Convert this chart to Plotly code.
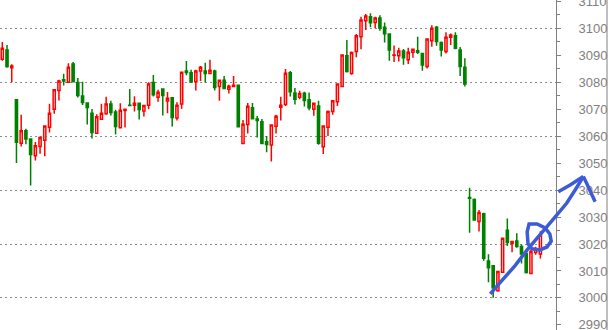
import plotly.graph_objects as go

# ---- data ----
opens = [3088.5, 3092.0, 3085.4, 3073.5, 3057.4, 3062.0, 3058.9, 3052.7, 3056.2, 3058.5,
         3063.3, 3070.0, 3076.9, 3080.9, 3080.0, 3086.8, 3079.9, 3074.9, 3072.3, 3068.5,
         3061.1, 3066.3, 3068.3, 3071.9, 3069.0, 3063.1, 3069.5, 3071.5, 3071.5, 3072.2,
         3069.3, 3071.5, 3079.9, 3074.4, 3077.5, 3073.0, 3074.2, 3066.7, 3071.9, 3084.2,
         3083.5, 3080.2, 3084.2, 3084.2, 3083.2, 3084.2, 3078.4, 3080.7, 3077.4, 3078.4,
         3078.9, 3057.3, 3064.3, 3070.5, 3066.4, 3065.3, 3057.9, 3056.7, 3063.7, 3070.7,
         3071.7, 3083.5, 3076.0, 3074.4, 3075.9, 3073.5, 3070.0, 3071.2, 3056.1, 3063.3,
         3069.1, 3072.8, 3078.4, 3089.8, 3083.2, 3091.4, 3096.9, 3102.8, 3104.3, 3102.2,
         3103.8, 3100.4, 3097.9, 3090.0, 3089.8, 3091.6, 3088.3, 3091.1, 3091.7, 3090.7,
         3085.8, 3095.4, 3100.4, 3094.7, 3091.4, 3096.7, 3097.2, 3092.0, 3085.6, 3037.2,
         3036.5, 3028.3, 3031.2, 3013.7, 3011.9, 3002.7, 3009.5, 3025.1, 3020.2, 3021.1,
         3019.1, 3016.5, 3009.1, 3016.8, 3016.3]
highs = [3094.9, 3093.8, 3086.7, 3073.5, 3067.9, 3062.7, 3058.9, 3057.8, 3059.9, 3063.8,
         3072.0, 3077.5, 3080.9, 3083.1, 3087.0, 3087.5, 3081.6, 3080.2, 3072.3, 3070.1,
         3068.1, 3072.0, 3074.6, 3073.1, 3069.8, 3072.2, 3070.0, 3077.5, 3074.8, 3072.2,
         3071.4, 3080.0, 3082.7, 3077.2, 3077.5, 3076.4, 3074.2, 3072.6, 3083.7, 3087.9,
         3084.6, 3084.6, 3086.0, 3087.2, 3088.3, 3084.6, 3080.7, 3082.3, 3079.1, 3082.3,
         3078.9, 3066.0, 3072.3, 3072.3, 3067.5, 3066.4, 3060.1, 3064.1, 3067.9, 3074.6,
         3084.9, 3084.2, 3077.9, 3076.8, 3076.5, 3076.2, 3072.2, 3073.1, 3063.8, 3069.5,
         3073.1, 3079.3, 3090.1, 3095.7, 3091.4, 3097.9, 3104.3, 3105.3, 3105.6, 3104.3,
         3104.8, 3102.2, 3097.9, 3093.6, 3092.8, 3092.3, 3092.8, 3092.2, 3096.9, 3090.7,
         3096.3, 3101.1, 3100.9, 3095.1, 3098.5, 3098.1, 3098.5, 3093.1, 3088.9, 3040.9,
         3036.9, 3032.6, 3031.6, 3016.2, 3011.9, 3009.8, 3022.3, 3029.5, 3021.2, 3024.0,
         3019.8, 3016.5, 3017.8, 3019.0, 3024.7]
lows = [3088.0, 3085.4, 3080.0, 3050.0, 3056.2, 3057.0, 3041.7, 3051.0, 3053.5, 3052.5,
        3061.4, 3068.3, 3073.2, 3078.8, 3080.0, 3080.0, 3074.3, 3071.6, 3064.3, 3059.1,
        3061.1, 3066.3, 3067.9, 3067.7, 3060.6, 3062.8, 3063.2, 3071.4, 3069.1, 3066.2,
        3067.3, 3070.0, 3074.7, 3072.8, 3067.7, 3068.5, 3063.6, 3065.8, 3070.2, 3082.6,
        3079.9, 3076.9, 3080.5, 3079.9, 3083.2, 3076.9, 3073.1, 3077.7, 3075.8, 3078.4,
        3063.2, 3057.3, 3061.0, 3066.2, 3059.5, 3057.3, 3054.0, 3050.6, 3061.0, 3065.8,
        3071.2, 3074.7, 3071.7, 3073.7, 3071.0, 3069.6, 3067.6, 3056.8, 3053.4, 3060.1,
        3067.9, 3071.2, 3078.4, 3083.6, 3082.8, 3089.3, 3092.2, 3099.4, 3100.4, 3100.0,
        3099.1, 3094.7, 3088.0, 3087.5, 3087.7, 3086.5, 3086.8, 3089.1, 3090.5, 3084.3,
        3085.1, 3093.2, 3093.5, 3089.5, 3090.7, 3093.8, 3092.2, 3082.3, 3078.4, 3024.2,
        3028.9, 3024.6, 3013.8, 3005.8, 3000.1, 3002.3, 3009.5, 3019.3, 3016.9, 3018.6,
        3012.8, 3009.1, 3009.1, 3016.0, 3014.6]
closes = [3092.6, 3085.8, 3086.0, 3057.7, 3062.0, 3058.9, 3053.2, 3056.4, 3059.5, 3063.8,
          3068.5, 3077.2, 3080.5, 3080.5, 3085.6, 3080.2, 3075.1, 3072.5, 3070.6, 3061.4,
          3067.2, 3068.5, 3071.9, 3068.8, 3063.6, 3069.6, 3070.0, 3071.4, 3072.2, 3069.9,
          3071.4, 3079.3, 3075.4, 3076.3, 3075.1, 3074.1, 3066.9, 3071.5, 3083.7, 3083.6,
          3080.1, 3084.2, 3085.6, 3083.2, 3084.4, 3078.0, 3080.7, 3077.7, 3078.5, 3078.9,
          3063.5, 3064.4, 3071.1, 3066.5, 3065.8, 3057.3, 3056.9, 3064.1, 3067.4, 3071.5,
          3083.3, 3076.5, 3073.7, 3075.8, 3073.2, 3070.5, 3072.2, 3057.4, 3063.8, 3069.1,
          3073.1, 3079.3, 3090.1, 3084.0, 3091.0, 3097.2, 3103.1, 3104.6, 3102.1, 3103.8,
          3100.1, 3098.0, 3092.0, 3090.1, 3091.6, 3089.1, 3091.1, 3092.2, 3091.1, 3086.4,
          3096.0, 3100.0, 3095.1, 3092.0, 3096.7, 3097.5, 3092.6, 3085.8, 3079.3, 3037.0,
          3028.9, 3031.7, 3014.7, 3011.2, 3003.8, 3009.8, 3022.1, 3020.6, 3020.9, 3019.1,
          3016.3, 3009.4, 3017.2, 3018.2, 3023.4]
bar_index = list(range(len(opens)))

y_tick_step = 10
y_grid_step = 20

# hand-drawn blue annotation, in (bar index, price) units
scribble_line_x = [103.4, 105.4, 108.6, 111.2, 113.9, 117.1, 119.6, 121.5, 123.1]
scribble_line_y = [3001.5, 3005.6, 3011.9, 3017.8, 3023.4, 3030.0, 3035.2, 3040.4, 3045.0]
scribble_head_left_x = [117.8, 120.3, 123.1]
scribble_head_left_y = [3039.4, 3041.9, 3045.0]
scribble_head_right_x = [123.1, 123.8, 125.6]
scribble_head_right_y = [3045.0, 3042.5, 3035.7]
scribble_loop_x = [111.4, 111.2, 111.6, 113.3, 115.0, 116.0, 116.3, 115.4, 113.9, 112.2, 111.4]
scribble_loop_y = [3019.6, 3024.5, 3027.4, 3027.4, 3026.0, 3023.7, 3021.1, 3018.9, 3017.8, 3018.2, 3020.0]

# ---- layout constants ----
W, H = 608, 330
M_R = 52
X_RANGE = [-0.487, -0.487 + (W - M_R) / 4.72]
Y_RANGE = [2988.1, 3110.5]
GRAY = "#808080"
BLUE = "#3d5bd4"

fig = go.Figure()
fig.add_trace(go.Candlestick(
    x=bar_index, open=opens, high=highs, low=lows, close=closes,
    increasing=dict(line=dict(color="#ff0000", width=1.5), fillcolor="#ffffff"),
    decreasing=dict(line=dict(color="#008000", width=1.5), fillcolor="#008000"),
    whiskerwidth=0, hoverinfo="skip", showlegend=False,
))
# empty helper trace so the grid-only overlay axis is drawn
fig.add_trace(go.Scatter(x=[], y=[], yaxis="y2", mode="lines", showlegend=False,
                         hoverinfo="skip"))


def to_paper_x(v):
    return (v - X_RANGE[0]) / (X_RANGE[1] - X_RANGE[0])


def path_from(xs, ys):
    pts = [f"{to_paper_x(a):.5f},{b:.3f}" for a, b in zip(xs, ys)]
    return "M" + " L".join(pts)


shapes = []
for xs, ys in [(scribble_line_x, scribble_line_y),
               (scribble_head_left_x, scribble_head_left_y),
               (scribble_head_right_x, scribble_head_right_y),
               (scribble_loop_x, scribble_loop_y)]:
    shapes.append(dict(type="path", xref="paper", yref="y", path=path_from(xs, ys),
                       line=dict(color=BLUE, width=3.5), layer="above"))

# right frame line
border_x = (W - 1) / (W - M_R)
shapes.append(dict(type="line", xref="paper", yref="paper", x0=border_x, x1=border_x,
                   y0=0, y1=1, line=dict(color=GRAY, width=1)))

fig.update_layout(
    width=W, height=H, autosize=False,
    margin=dict(l=0, r=M_R, t=0, b=0, pad=0, autoexpand=False),
    paper_bgcolor="white", plot_bgcolor="white",
    boxgap=0.35,
    showlegend=False,
    shapes=shapes,
    xaxis=dict(range=X_RANGE, visible=False, rangeslider=dict(visible=False),
               showgrid=False, zeroline=False, fixedrange=True, automargin=False),
    yaxis=dict(range=Y_RANGE, side="right", dtick=y_tick_step, tick0=0, automargin=False,
               showgrid=False, zeroline=False, showline=True, linecolor=GRAY, linewidth=1,
               ticks="outside", ticklen=4, tickcolor=GRAY, tickwidth=1,
               minor=dict(dtick=5, ticks="outside", ticklen=3, tickcolor=GRAY, showgrid=False),
               tickfont=dict(family="Liberation Sans, Arial", size=13, color=GRAY),
               ticklabeloverflow="allow", ticklabelstandoff=15, fixedrange=True),
    yaxis2=dict(range=Y_RANGE, overlaying="y", side="right", dtick=y_grid_step, tick0=0,
                automargin=False,
                showgrid=True, gridcolor="#8c8c8c", gridwidth=1.2, griddash="1.5px,3.5px",
                showticklabels=False, ticks="", showline=False, zeroline=False,
                fixedrange=True),
)

fig.write_html("out.html")
